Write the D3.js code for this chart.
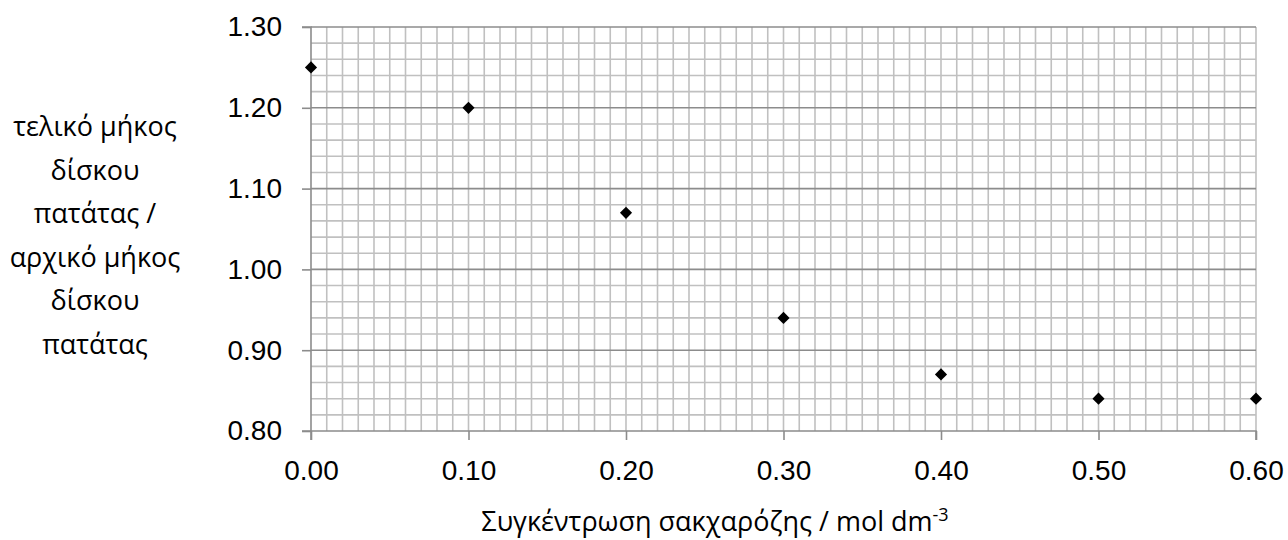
<!DOCTYPE html>
<html><head><meta charset="utf-8">
<script src="https://cdn.jsdelivr.net/npm/d3@7"></script>
<style>body{margin:0;background:#fff}svg{display:block}</style>
</head><body>
<svg id="c" width="1288" height="540"></svg>
<script>
const xValues = [0.00, 0.10, 0.20, 0.30, 0.40, 0.50, 0.60];
const yValues = [1.25, 1.20, 1.07, 0.94, 0.87, 0.84, 0.84];
const xTicks = [0.0, 0.1, 0.2, 0.3, 0.4, 0.5, 0.6];
const yTicks = [0.8, 0.9, 1.0, 1.1, 1.2, 1.3];
const yTitleLines = ["τελικό μήκος", "δίσκου", "πατάτας /", "αρχικό μήκος", "δίσκου", "πατάτας"];
const xTitle = "Συγκέντρωση σακχαρόζης / mol dm";
const xTitleSup = "-3";

const svg = d3.select("#c");
const L = 311, R = 1256, T = 27, B = 431;
const x = d3.scaleLinear().domain([0, 0.6]).range([L, R]);
const y = d3.scaleLinear().domain([0.8, 1.3]).range([B, T]);

const vMinor = d3.range(1, 61).map(i => i / 100);
svg.append("g").selectAll("line").data(vMinor).join("line")
  .attr("x1", d => x(d)).attr("x2", d => x(d)).attr("y1", T).attr("y2", B)
  .attr("stroke", "#c0c0c0").attr("stroke-width", 1.6);
const hMinor = d3.range(1, 25).map(i => 0.8 + i * 0.02).filter(v => Math.abs(v * 10 - Math.round(v * 10)) > 1e-6);
svg.append("g").selectAll("line").data(hMinor).join("line")
  .attr("x1", L).attr("x2", R).attr("y1", d => y(d)).attr("y2", d => y(d))
  .attr("stroke", "#c0c0c0").attr("stroke-width", 1.6);
svg.append("g").selectAll("line").data(yTicks.slice(1)).join("line")
  .attr("x1", L).attr("x2", R).attr("y1", d => y(d)).attr("y2", d => y(d))
  .attr("stroke", "#8c8c8c").attr("stroke-width", 1.6);

const yAxis = svg.append("g").attr("transform", `translate(${L},0)`)
  .call(d3.axisLeft(y).tickValues(yTicks).tickFormat(d3.format(".2f")).tickSize(9).tickPadding(20));
const xAxis = svg.append("g").attr("transform", `translate(0,${B})`)
  .call(d3.axisBottom(x).tickValues(xTicks).tickFormat(d3.format(".2f")).tickSize(9).tickPadding(20));
[yAxis, xAxis].forEach(g => {
  g.attr("font-size", null).attr("font-family", null);
  g.select(".domain").attr("stroke", "#8c8c8c").attr("stroke-width", 1.6);
  g.selectAll(".tick line").attr("stroke", "#8c8c8c").attr("stroke-width", 1.6);
  g.selectAll("text").style("font-family", "'Liberation Sans', Arial, sans-serif").style("font-size", "28px").attr("fill", "#000");
});
yAxis.select(".domain").attr("d", `M-9,${B}H0V${T}H-9`);
xAxis.select(".domain").attr("d", `M${L},9V0H${R}V9`);

svg.append("g").selectAll("path").data(xValues).join("path")
  .attr("transform", (d, i) => `translate(${x(d)},${y(yValues[i])}) rotate(45)`)
  .attr("d", d3.symbol().type(d3.symbolSquare).size(74))
  .attr("fill", "#000");

svg.append("g").selectAll("text").data(yTitleLines).join("text")
  .attr("x", 95).attr("y", (d, i) => 136 + i * 43.5)
  .attr("text-anchor", "middle")
  .style("font-family", "'Open Sans', sans-serif").style("font-size", "27px").attr("fill", "#000")
  .text(d => d);

const xt = svg.append("text").attr("x", 715).attr("y", 531).attr("text-anchor", "middle")
  .style("font-family", "'Open Sans', sans-serif").style("font-size", "27px").attr("fill", "#000");
xt.append("tspan").text(xTitle);
xt.append("tspan").attr("dy", -10).style("font-size", "18px").text(xTitleSup);
</script>
</body></html>
